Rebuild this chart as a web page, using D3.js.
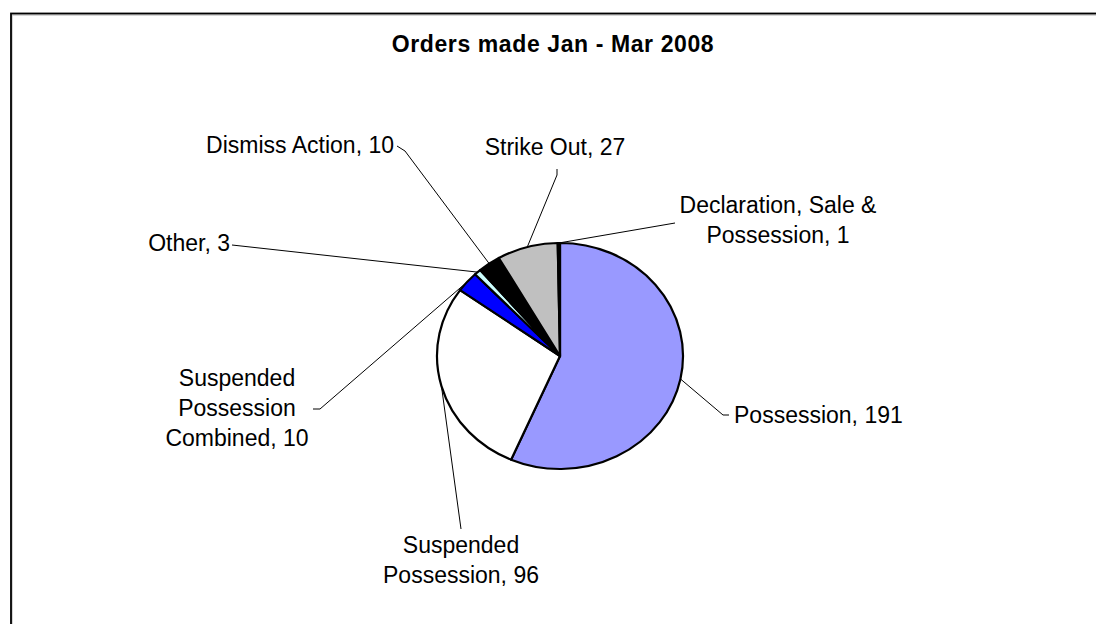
<!DOCTYPE html>
<html>
<head>
<meta charset="utf-8">
<script src="https://cdn.jsdelivr.net/npm/d3@7"></script>
<style>
  html, body { margin: 0; padding: 0; background: #fff; }
  svg { display: block; }
  text { font-family: "Liberation Sans", Arial, sans-serif; fill: #000; }
</style>
</head>
<body>
<div id="chart"></div>
<script>
// data
const categories = ['Possession', 'Suspended Possession', 'Suspended Possession Combined',
  'Other', 'Dismiss Action', 'Strike Out', 'Declaration, Sale & Possession'];
const values = [191, 96, 10, 3, 10, 27, 1];
const sliceColors = ['#9999ff', '#ffffff', '#0000ff', '#ccffff', '#000000', '#c0c0c0', '#000000'];
const title = 'Orders made Jan - Mar 2008';

// label layout: word index breaks, anchor, first baseline, leader elbow points
const labelLayout = [
  { breaks: [], x: 734, y: 423, anchor: 'start', leader: [[723, 415], [729, 415]] },
  { breaks: [1], x: 461, y: 553, anchor: 'middle', leader: [[461, 529]] },
  { breaks: [1, 2], x: 237, y: 386, anchor: 'middle', leader: [[320, 409], [313, 409]] },
  { breaks: [], x: 230, y: 251, anchor: 'end', leader: [[232, 245]] },
  { breaks: [], x: 394, y: 153, anchor: 'end', leader: [[405, 151], [397, 146]] },
  { breaks: [], x: 555, y: 155, anchor: 'middle', leader: [[557, 175], [557, 169]] },
  { breaks: [3], x: 778, y: 213, anchor: 'middle', leader: [[675, 223]] }
];

const width = 1096, height = 624;
const cx = 560, cy = 356, rx = 123, ry = 113;
const lineHeight = 30;

const svg = d3.select('#chart')
  .append('svg')
  .attr('width', width)
  .attr('height', height);

// chart frame (runs off the right and bottom edge)
svg.append('rect')
  .attr('x', 12).attr('y', 15)
  .attr('width', 1200).attr('height', 800)
  .attr('fill', 'none')
  .attr('stroke', '#c8c8c8')
  .attr('stroke-width', 1.5);
svg.append('rect')
  .attr('x', 11).attr('y', 13.5)
  .attr('width', 1200).attr('height', 800)
  .attr('fill', 'none')
  .attr('stroke', '#000')
  .attr('stroke-width', 1.8);

svg.append('text')
  .attr('x', 553)
  .attr('y', 52)
  .attr('text-anchor', 'middle')
  .style('font-size', '23px')
  .style('font-weight', 'bold')
  .style('letter-spacing', '0.6px')
  .text(title);

const data = categories.map((c, i) => ({ category: c, value: values[i], color: sliceColors[i] }));

const pie = d3.pie()
  .value(d => d.value)
  .sort(null);

const arcs = pie(data);

const arc = d3.arc()
  .innerRadius(0)
  .outerRadius(rx);

// pie is stretched into an ellipse like the original
const pieG = svg.append('g')
  .attr('transform', `translate(${cx},${cy}) scale(1,${ry / rx})`);

pieG.selectAll('path.slice')
  .data(arcs)
  .join('path')
  .attr('class', 'slice')
  .attr('d', arc)
  .attr('fill', d => d.data.color)
  .attr('stroke', '#000')
  .attr('stroke-width', 2.2)
  .attr('stroke-linejoin', 'round')
  .attr('vector-effect', 'non-scaling-stroke');

// leader lines
const edgePoint = d => {
  const a = (d.startAngle + d.endAngle) / 2;
  return [cx + rx * Math.sin(a), cy - ry * Math.cos(a)];
};

svg.selectAll('path.leader')
  .data(arcs)
  .join('path')
  .attr('class', 'leader')
  .attr('d', (d, i) => d3.line()([edgePoint(d), ...labelLayout[i].leader]))
  .attr('fill', 'none')
  .attr('stroke', '#000')
  .attr('stroke-width', 1);

// labels
arcs.forEach((d, i) => {
  const lay = labelLayout[i];
  const words = `${d.data.category}, ${d.data.value}`.split(' ');
  const lines = [];
  let start = 0;
  lay.breaks.concat([words.length]).forEach(b => {
    lines.push(words.slice(start, b).join(' '));
    start = b;
  });
  const t = svg.append('text')
    .attr('text-anchor', lay.anchor)
    .style('font-size', '23px');
  lines.forEach((ln, j) => {
    t.append('tspan')
      .attr('x', lay.x)
      .attr('y', lay.y + j * lineHeight)
      .text(ln);
  });
});
</script>
</body>
</html>
